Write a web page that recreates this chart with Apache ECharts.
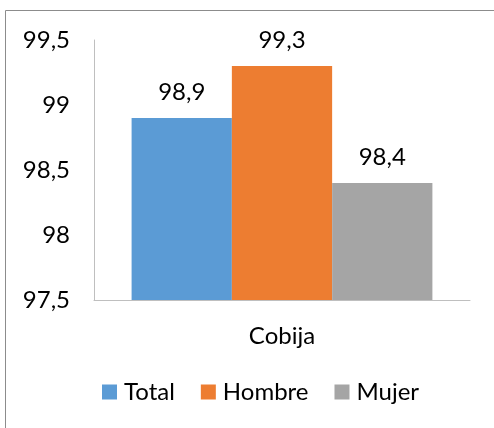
<!DOCTYPE html>
<html><head><meta charset="utf-8">
<script src="https://cdn.jsdelivr.net/npm/echarts@6/dist/echarts.min.js"></script>
<style>html,body{margin:0;padding:0;background:#fff}#c{width:494px;height:428px}</style>
</head><body><div id="c"></div>
<script>
const categories = ['Cobija'];
const seriesNames = ['Total', 'Hombre', 'Mujer'];
const totalValues = [98.9];
const hombreValues = [99.3];
const mujerValues = [98.4];
const yTicks = [97.5, 98, 98.5, 99, 99.5];

const colors = ['#5b9bd5', '#ed7d31', '#a5a5a5'];
const FONT = 'Lato';
const FS = 24;
const fmt = v => String(v).replace('.', ',');
const chart = echarts.init(document.getElementById('c'));
const dataSets = [totalValues, hombreValues, mujerValues];
chart.setOption({
  animation: false,
  textStyle: { fontFamily: FONT },
  graphic: [{ type: 'rect', shape: { x: 5.5, y: 10.5, width: 600, height: 600 }, style: { fill: 'none', stroke: '#8c8c8c', lineWidth: 1 }, silent: true }],
  grid: { left: 94, top: 40, right: 24, bottom: 128 },
  legend: {
    data: seriesNames, bottom: 19, left: 97, itemWidth: 15, itemHeight: 15, itemGap: 26,
    icon: 'rect', textStyle: { fontFamily: FONT, fontSize: FS, color: '#000', padding: [0, 0, 0, 2] }
  },
  xAxis: {
    type: 'category', data: categories,
    axisLine: { lineStyle: { color: '#bfbfbf', width: 1 } },
    axisTick: { show: false },
    axisLabel: { fontFamily: FONT, fontSize: FS, color: '#000', margin: 24 }
  },
  yAxis: {
    type: 'value', min: yTicks[0], max: yTicks[yTicks.length - 1], interval: 0.5,
    axisLine: { show: true, lineStyle: { color: '#bfbfbf', width: 1 } },
    axisTick: { show: false },
    splitLine: { show: false },
    axisLabel: { fontFamily: FONT, fontSize: FS, color: '#000', margin: 24, formatter: fmt }
  },
  series: seriesNames.map((n, i) => ({
    name: n, type: 'bar', data: dataSets[i], barGap: '0%', barCategoryGap: '20%',
    itemStyle: { color: colors[i] },
    label: { show: true, position: 'top', distance: 14, fontFamily: FONT, fontSize: FS, color: '#000', formatter: p => fmt(p.value) }
  }))
});
</script></body></html>
